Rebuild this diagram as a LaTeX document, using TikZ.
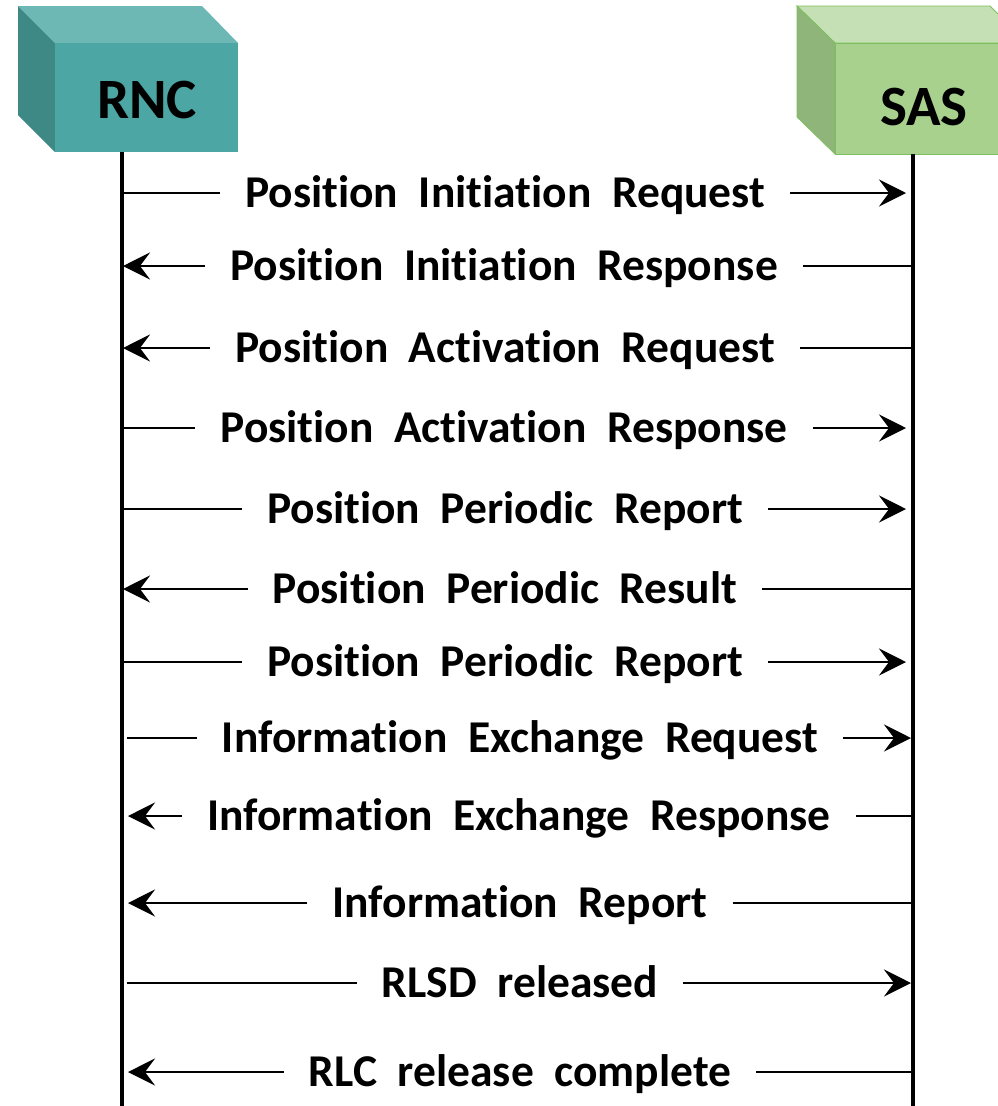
\documentclass[tikz,border=0pt]{standalone}
\usepackage{fontspec}
\setmainfont{Carlito}[Ligatures=NoCommon]
\newfontfamily\msgfont{Carlito}[Ligatures=NoCommon, WordSpace=2.0]
\usetikzlibrary{arrows.meta}
\definecolor{rncfront}{HTML}{4BA6A4}
\definecolor{rnctop}{HTML}{6DB7B4}
\definecolor{rncside}{HTML}{3E8885}
\definecolor{sasfront}{HTML}{A9D18E}
\definecolor{sastop}{HTML}{C5E0B4}
\definecolor{sasside}{HTML}{8FB57B}
\definecolor{sasedge}{HTML}{7DBE5E}
\begin{document}
\begin{tikzpicture}[x=1pt,y=-1pt,
  headtext/.style={font=\fontsize{57}{62}\selectfont\bfseries, text height=36pt, text depth=0pt, inner sep=0pt},
  msgtext/.style={font=\msgfont\fontsize{45.5}{54}\selectfont\bfseries, inner xsep=25pt, inner ysep=0pt, anchor=base},
  msgline/.style={line width=2.6pt},
  msgarrow/.style={msgline, -{Stealth[length=27pt,width=27pt,inset=10pt]}},
  lifeline/.style={line width=3.4pt}]
\useasboundingbox (0,0) rectangle (998,1106);
\clip (0,0) rectangle (998,1106);
% RNC cube
\fill[rnctop] (18,6) -- (202,6) -- (238,43) -- (55,43) -- cycle;
\fill[rncside] (18,6) -- (55,43) -- (55,152) -- (18,115) -- cycle;
\node[fill=rncfront, minimum width=183pt, minimum height=109pt, inner sep=0pt] (rncbox) at (146.5,97.5) {};
\node[headtext] (rnc) at (147,100) {RNC};
% SAS cube
\filldraw[sastop, draw=sasedge, line width=0.8pt] (797,6) -- (990,6) -- (1027,43) -- (835,43) -- cycle;
\filldraw[sasside, draw=sasedge, line width=0.8pt] (797,6) -- (835,43) -- (835,154) -- (797,117) -- cycle;
\node[fill=sasfront, draw=sasedge, line width=0.8pt, minimum width=192pt, minimum height=111pt, inner sep=0pt] (sasbox) at (931,98.5) {};
\node[headtext] (sas) at (924,107) {SAS};
% lifelines
\coordinate (rnctop) at (122,152);
\coordinate (rncend) at (122,1106);
\coordinate (sastopc) at (913,154);
\coordinate (sasend) at (913,1106);
\draw[lifeline] (rnctop) -- (rncend);
\draw[lifeline] (sastopc) -- (sasend);
% message anchors
\coordinate (L1) at (123,193);  \coordinate (R1) at (906,193);
\coordinate (L2) at (123,266);  \coordinate (R2) at (911,266);
\coordinate (L3) at (123,348);  \coordinate (R3) at (911,348);
\coordinate (L4) at (123,428);  \coordinate (R4) at (906,428);
\coordinate (L5) at (123,509);  \coordinate (R5) at (906,509);
\coordinate (L6) at (123,589);  \coordinate (R6) at (911,589);
\coordinate (L7) at (123,662);  \coordinate (R7) at (906,662);
\coordinate (L8) at (127,738);  \coordinate (R8) at (911,738);
\coordinate (L9) at (128,816);  \coordinate (R9) at (912,816);
\coordinate (L10) at (128,903); \coordinate (R10) at (912,903);
\coordinate (L11) at (127,983); \coordinate (R11) at (911,983);
\coordinate (L12) at (128,1072);\coordinate (R12) at (912,1072);
% labels
\node[msgtext] (m1) at (505,207.5) {Position Initiation Request};
\node[msgtext] (m2) at (504,280.5) {Position Initiation Response};
\node[msgtext] (m3) at (505,362.5) {Position Activation Request};
\node[msgtext] (m4) at (504,442.5) {Position Activation Response};
\node[msgtext] (m5) at (505,523.5) {Position Periodic Report};
\node[msgtext] (m6) at (505,603.5) {Position Periodic Result};
\node[msgtext] (m7) at (505,676.5) {Position Periodic Report};
\node[msgtext] (m8) at (520,752.5) {Information Exchange Request};
\node[msgtext] (m9) at (519,830.5) {Information Exchange Response};
\node[msgtext] (m10) at (520,917.5) {Information Report};
\node[msgtext] (m11) at (520,997.5) {RLSD released};
\node[msgtext] (m12) at (520,1086.5) {RLC release complete};
% arrows
\draw[msgline] (L1) -- (L1 -| m1.west);  \draw[msgarrow] (R1 -| m1.east) -- (R1);
\draw[msgarrow] (L2 -| m2.west) -- (L2); \draw[msgline] (R2 -| m2.east) -- (R2);
\draw[msgarrow] (L3 -| m3.west) -- (L3); \draw[msgline] (R3 -| m3.east) -- (R3);
\draw[msgline] (L4) -- (L4 -| m4.west);  \draw[msgarrow] (R4 -| m4.east) -- (R4);
\draw[msgline] (L5) -- (L5 -| m5.west);  \draw[msgarrow] (R5 -| m5.east) -- (R5);
\draw[msgarrow] (L6 -| m6.west) -- (L6); \draw[msgline] (R6 -| m6.east) -- (R6);
\draw[msgline] (L7) -- (L7 -| m7.west);  \draw[msgarrow] (R7 -| m7.east) -- (R7);
\draw[msgline] (L8) -- (L8 -| m8.west);  \draw[msgarrow] (R8 -| m8.east) -- (R8);
\draw[msgarrow] (L9 -| m9.west) -- (L9); \draw[msgline] (R9 -| m9.east) -- (R9);
\draw[msgarrow] (L10 -| m10.west) -- (L10); \draw[msgline] (R10 -| m10.east) -- (R10);
\draw[msgline] (L11) -- (L11 -| m11.west);  \draw[msgarrow] (R11 -| m11.east) -- (R11);
\draw[msgarrow] (L12 -| m12.west) -- (L12); \draw[msgline] (R12 -| m12.east) -- (R12);
\end{tikzpicture}
\end{document}
